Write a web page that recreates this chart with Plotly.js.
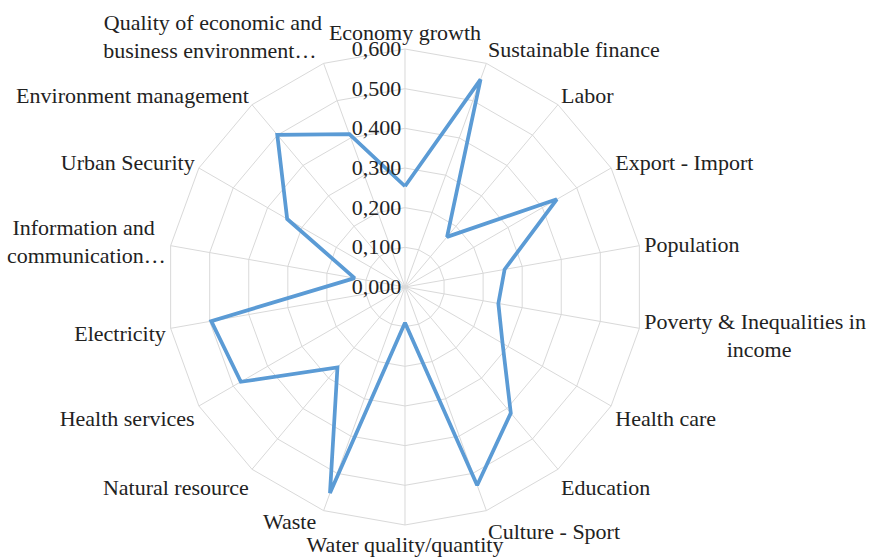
<!DOCTYPE html>
<html>
<head>
<meta charset="utf-8">
<script src="https://cdn.plot.ly/plotly-3.0.1.min.js"></script>
<style>html,body{margin:0;padding:0;background:#fff;}#chart{width:877px;height:557px;}</style>
</head>
<body>
<div id="chart"></div>
<script>
var NB = "\u00A0";
function pad(n) { return new Array(n + 1).join(NB); }

var categories = [
  "Economy growth", "Sustainable finance", "Labor", "Export - Import", "Population",
  "Poverty & Inequalities in income", "Health care", "Education", "Culture - Sport",
  "Water quality/quantity", "Waste", "Natural resource", "Health services", "Electricity",
  "Information and communication…", "Urban Security", "Environment management",
  "Quality of economic and business environment…"
];
// Axis label text; "Waste" is drawn as an annotation placed higher (as in the reference) to avoid overlap
var categoryLabels = [
  "Economy growth", "Sustainable finance", "Labor", "Export - Import", "Population",
  "Poverty & Inequalities in<br>" + pad(15) + "income", "Health care", "Education", "Culture - Sport",
  "Water quality/quantity", "", "Natural resource", "Health services", "Electricity",
  "Information and" + pad(2) + "<br>communication…", "Urban Security", "Environment management",
  "Quality of economic and<br>business environment…" + NB
];
var values = [0.254, 0.557, 0.165, 0.442, 0.255, 0.239, 0.284, 0.415, 0.532,
  0.090, 0.553, 0.265, 0.478, 0.496, 0.129, 0.343, 0.501, 0.410];
var radialTicks = [0, 0.1, 0.2, 0.3, 0.4, 0.5, 0.6];
var radialTickText = ["0,000", "0,100", "0,200", "0,300", "0,400", "0,500", "0,600"];

var theta = categories.concat([categories[0]]);
var r = values.concat([values[0]]);

var trace = {
  type: "scatterpolar",
  mode: "lines",
  r: r,
  theta: theta,
  line: {color: "#5B9BD5", width: 3.75},
  hoverinfo: "skip",
  showlegend: false
};

var FONT = "Liberation Serif";

var layout = {
  width: 877, height: 557,
  margin: {l: 0, r: 0, t: 0, b: 0},
  paper_bgcolor: "#ffffff",
  font: {family: FONT, size: 22, color: "#222222"},
  annotations: [{
    text: categories[10],
    xref: "paper", yref: "paper",
    x: 0.3626, y: 0.0646,
    xanchor: "right", yanchor: "middle",
    showarrow: false,
    font: {family: FONT, size: 22, color: "#222222"}
  }],
  polar: {
    domain: {x: [0.1904, 0.7332], y: [0.0575, 0.9120]},
    bgcolor: "#ffffff",
    gridshape: "linear",
    angularaxis: {
      type: "category",
      categoryarray: categories,
      tickvals: categories,
      ticktext: categoryLabels,
      direction: "clockwise",
      rotation: 90,
      showline: true,
      linecolor: "#d9d9d9",
      linewidth: 1,
      gridcolor: "#d9d9d9",
      gridwidth: 1,
      ticks: "",
      tickfont: {family: FONT, size: 22, color: "#222222"}
    },
    radialaxis: {
      range: [0, 0.6],
      angle: 90,
      side: "counterclockwise",
      tickvals: radialTicks,
      ticktext: radialTickText,
      tickangle: 90,
      showline: false,
      ticks: "",
      gridcolor: "#d9d9d9",
      gridwidth: 1,
      tickfont: {family: FONT, size: 22, color: "#222222"}
    }
  }
};

Plotly.newPlot("chart", [trace], layout, {staticPlot: true, displayModeBar: false});
</script>
</body>
</html>
